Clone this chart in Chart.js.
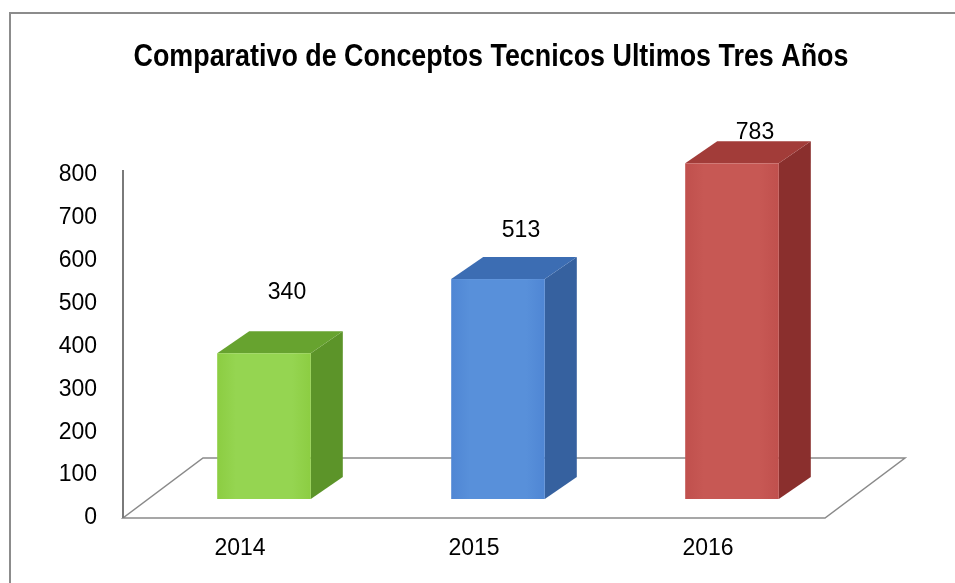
<!DOCTYPE html>
<html>
<head>
<meta charset="utf-8">
<script src="https://cdn.jsdelivr.net/npm/chart.js@4"></script>
<style>
  html, body { margin: 0; padding: 0; background: #fff; }
  #wrap { width: 955px; height: 583px; position: relative; }
</style>
</head>
<body>
<div id="wrap"><canvas id="grafico" width="955" height="583"></canvas></div>
<script>
const titulo = 'Comparativo de Conceptos Tecnicos Ultimos Tres Años';
const anos = ['2014', '2015', '2016'];
const conceptos = [340, 513, 783];
const ejeY = [0, 100, 200, 300, 400, 500, 600, 700, 800];

// cara frontal, lateral y superior de cada columna
const coloresFrente = ['#8ccd42', '#4f86d4', '#c0504d'];
const coloresFrenteClaro = ['#95d551', '#5890da', '#c75854'];
const coloresLado = ['#5c9429', '#36619f', '#8a2f2d'];
const coloresTapa = ['#67a32f', '#3c6db3', '#a23c39'];

const PISO_DX = 80, PISO_DY = 60;   // profundidad del piso
const BARRA_DX = 32, BARRA_DY = 22; // profundidad de cada columna

const fuente = "'Liberation Sans', Arial, sans-serif";

const columnas3d = {
    id: 'columnas3d',
    beforeDraw(chart) {
        const ctx = chart.ctx;
        ctx.save();
        ctx.fillStyle = '#fff';
        ctx.fillRect(0, 0, chart.width, chart.height);
        ctx.strokeStyle = '#8c8c8c';
        ctx.lineWidth = 2;
        ctx.strokeRect(10, 13, chart.width + 20, chart.height + 20);

        // título en letra estrecha (sin Arial Narrow se comprime la negrita)
        ctx.fillStyle = '#000';
        ctx.font = 'bold 32px ' + fuente;
        ctx.textAlign = 'center';
        ctx.textBaseline = 'middle';
        ctx.translate(491, 57);
        ctx.scale(0.84, 1);
        ctx.fillText(titulo, 0, 0);
        ctx.restore();
    },
    beforeDatasetsDraw(chart) {
        const ctx = chart.ctx;
        const x = chart.scales.x, y = chart.scales.y;
        const y0 = y.getPixelForValue(0);
        ctx.save();
        // piso
        ctx.strokeStyle = '#8a8a8a';
        ctx.lineWidth = 1.5;
        ctx.beginPath();
        ctx.moveTo(x.left, y0);
        ctx.lineTo(x.right, y0);
        ctx.lineTo(x.right + PISO_DX, y0 - PISO_DY);
        ctx.lineTo(x.left + PISO_DX, y0 - PISO_DY);
        ctx.closePath();
        ctx.stroke();
        // eje vertical
        ctx.strokeStyle = '#7a7a7a';
        ctx.lineWidth = 2;
        ctx.beginPath();
        ctx.moveTo(x.left, y0);
        ctx.lineTo(x.left, y.top - 5);
        ctx.stroke();
        ctx.restore();
    },
    afterDatasetsDraw(chart) {
        const ctx = chart.ctx;
        const y = chart.scales.y;
        const meta = chart.getDatasetMeta(0);
        const offX = PISO_DX / 2 - BARRA_DX / 2;
        const offY = PISO_DY / 2 - BARRA_DY / 2;
        ctx.save();
        meta.data.forEach((barra, i) => {
            const x0 = barra.x - barra.width / 2 + offX;
            const x1 = barra.x + barra.width / 2 + offX;
            const top = barra.y - offY;
            const base = barra.base - offY;

            // lateral
            ctx.fillStyle = coloresLado[i];
            ctx.beginPath();
            ctx.moveTo(x1, top);
            ctx.lineTo(x1 + BARRA_DX, top - BARRA_DY);
            ctx.lineTo(x1 + BARRA_DX, base - BARRA_DY);
            ctx.lineTo(x1, base);
            ctx.closePath();
            ctx.fill();

            // tapa
            ctx.fillStyle = coloresTapa[i];
            ctx.beginPath();
            ctx.moveTo(x0, top);
            ctx.lineTo(x1, top);
            ctx.lineTo(x1 + BARRA_DX, top - BARRA_DY);
            ctx.lineTo(x0 + BARRA_DX, top - BARRA_DY);
            ctx.closePath();
            ctx.fill();

            // frente
            const grad = ctx.createLinearGradient(x0, 0, x1, 0);
            grad.addColorStop(0, coloresFrente[i]);
            grad.addColorStop(0.2, coloresFrenteClaro[i]);
            grad.addColorStop(0.8, coloresFrenteClaro[i]);
            grad.addColorStop(1, coloresFrente[i]);
            ctx.fillStyle = grad;
            ctx.fillRect(x0, top, x1 - x0, base - top);

            // etiqueta del valor
            const v = conceptos[i];
            ctx.fillStyle = '#000';
            ctx.font = '23px ' + fuente;
            ctx.textAlign = 'center';
            ctx.textBaseline = 'middle';
            ctx.fillText(String(v), (x0 + x1) / 2 + 23, y.getPixelForValue(v * 0.84) - 103);
        });
        ctx.restore();
    }
};

new Chart(document.getElementById('grafico'), {
    type: 'bar',
    data: {
        labels: anos,
        datasets: [{
            data: conceptos,
            backgroundColor: 'rgba(0,0,0,0)',
            borderWidth: 0,
            categoryPercentage: 1,
            barPercentage: 0.4
        }]
    },
    options: {
        responsive: false,
        animation: false,
        layout: { padding: { left: 0, right: 130, top: 175, bottom: 0 } },
        plugins: {
            legend: { display: false },
            tooltip: { enabled: false },
            title: { display: false }
        },
        scales: {
            x: {
                grid: { display: false, drawTicks: false },
                border: { display: false },
                ticks: { color: '#000', font: { family: fuente, size: 23 }, padding: 17 },
                afterFit: (s) => { s.height = 65; }
            },
            y: {
                min: 0,
                max: ejeY[ejeY.length - 1],
                grid: { display: false, drawTicks: false },
                border: { display: false },
                ticks: {
                    stepSize: ejeY[1] - ejeY[0],
                    color: '#000',
                    font: { family: fuente, size: 23 },
                    padding: 26
                },
                afterFit: (s) => { s.width = 123; }
            }
        }
    },
    plugins: [columnas3d]
});
</script>
</body>
</html>
